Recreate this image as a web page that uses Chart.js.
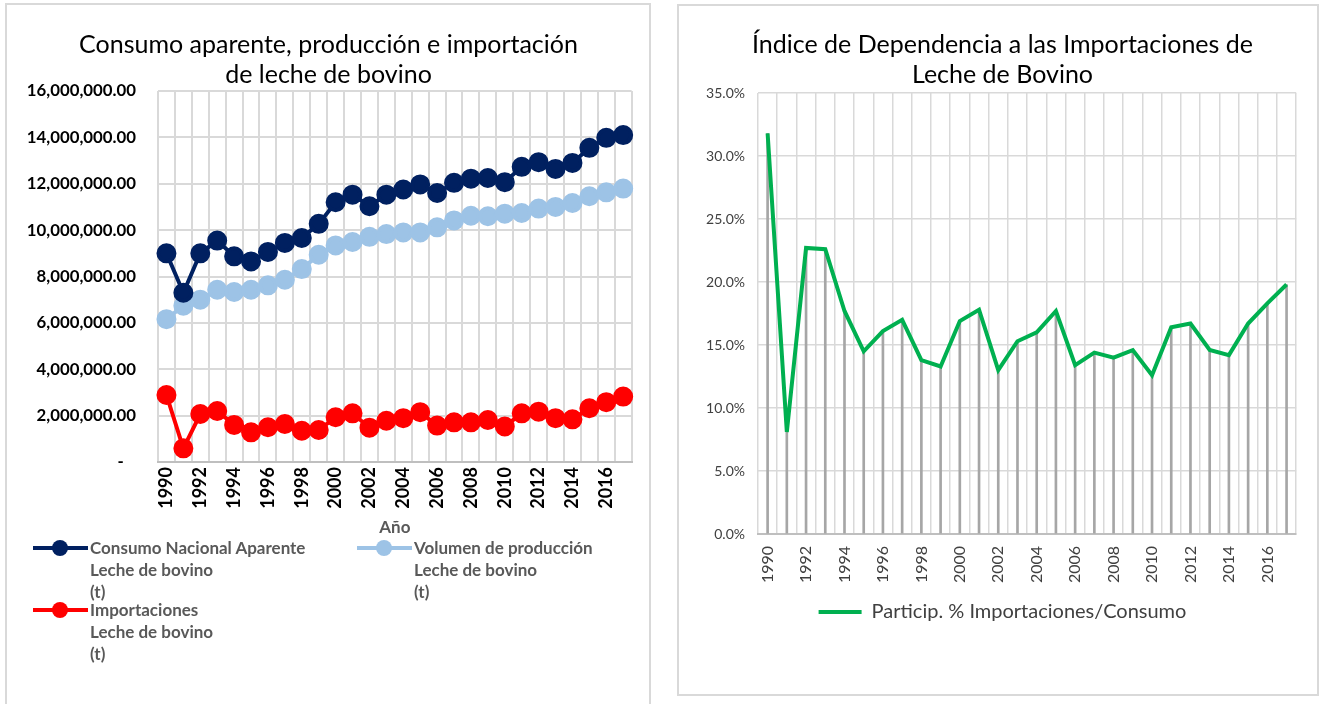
<!DOCTYPE html>
<html><head><meta charset="utf-8">
<script src="https://cdn.jsdelivr.net/npm/chart.js@4.4.1/dist/chart.umd.min.js"></script>
<style>
html,body{margin:0;padding:0;background:#fff;width:1320px;height:704px;overflow:hidden;font-family:Lato,sans-serif}
.box{position:absolute;border:2px solid #d9d9d9;box-sizing:border-box}
#boxL{left:5px;top:3px;width:646px;height:720px}
#boxR{left:677px;top:4px;width:642px;height:692px}
canvas{position:absolute}
#cL{left:6px;top:4px}
#cR{left:678px;top:5px}
.lg{position:absolute;font:bold 17px Lato,sans-serif;color:#595959;line-height:22px}
.lg .mk{position:absolute;left:0;top:9px;width:55px;height:4px}
.lg .dot{position:absolute;left:19px;top:3px;width:16px;height:16px;border-radius:50%}
.lg .tx{position:absolute;left:57px;top:0;white-space:nowrap}
</style></head>
<body>
<div class="box" id="boxL"></div>
<div class="box" id="boxR"></div>
<canvas id="cL" width="644" height="696"></canvas>
<canvas id="cR" width="640" height="690"></canvas>
<div id="legendL"></div>
<script>
const years = ['1990','1991','1992','1993','1994','1995','1996','1997','1998','1999','2000','2001','2002','2003','2004','2005','2006','2007','2008','2009','2010','2011','2012','2013','2014','2015','2016','2017'];
const consumo = [9000000,7300000,9000000,9550000,8870000,8650000,9060000,9450000,9660000,10270000,11200000,11530000,11030000,11530000,11750000,11970000,11600000,12040000,12220000,12250000,12070000,12730000,12930000,12640000,12900000,13550000,13980000,14100000];
const produccion = [6160000,6740000,7000000,7430000,7330000,7430000,7620000,7860000,8320000,8940000,9340000,9490000,9710000,9830000,9900000,9900000,10120000,10420000,10620000,10600000,10710000,10740000,10930000,11000000,11170000,11460000,11630000,11790000];
const importaciones = [2890000,590000,2070000,2200000,1600000,1280000,1500000,1640000,1350000,1380000,1930000,2100000,1480000,1780000,1890000,2150000,1570000,1710000,1710000,1810000,1530000,2100000,2170000,1890000,1840000,2320000,2580000,2820000];
const dependencia = [31.8,8.1,22.7,22.6,17.7,14.5,16.1,17.0,13.8,13.3,16.9,17.8,13.0,15.3,16.0,17.7,13.4,14.4,14.0,14.6,12.6,16.4,16.7,14.6,14.2,16.7,18.3,19.8];
const seriesNamesL = [
  ['Consumo Nacional Aparente','Leche de bovino','(t)'],
  ['Volumen de producción','Leche de bovino','(t)'],
  ['Importaciones','Leche de bovino','(t)']
];
const colorsL = ['#002060','#9dc3e6','#ff0000'];
const titleL = ['Consumo aparente, producción e importación','de leche de bovino'];
const titleR = ['Índice de Dependencia a las Importaciones de','Leche de Bovino'];
const seriesNameR = 'Particip. % Importaciones/Consumo';

const F = 'Lato';
const valsL = [consumo, produccion, importaciones];
const dsL = valsL.map((v,i)=>({
  label: seriesNamesL[i].join(' '), data: v,
  borderColor: colorsL[i], backgroundColor: colorsL[i],
  pointBackgroundColor: colorsL[i], pointBorderColor: colorsL[i],
  borderWidth: 4, pointRadius: 8, pointHoverRadius: 8, tension: 0
}));

new Chart(document.getElementById('cL'), {
  type: 'line',
  data: { labels: years, datasets: dsL },
  options: {
    responsive: false, animation: false, devicePixelRatio: 1,
    layout: { padding: { left: 10, right: 9, top: 0, bottom: 161 } },
    plugins: {
      legend: { display: false }, tooltip: { enabled: false },
      title: { display: true, text: titleL, color: '#000',
        font: { family: F, size: 25, weight: 'normal', lineHeight: 1.2 },
        padding: { top: 26, bottom: 1 } }
    },
    scales: {
      x: {
        offset: true,
        grid: { offset: true, color: '#d9d9d9', lineWidth: 2, drawTicks: false },
        border: { color: '#bfbfbf', width: 2 },
        ticks: { autoSkip: false, maxRotation: 90, minRotation: 90, padding: 5, color: '#000',
          font: { family: F, size: 18, weight: 'bold' },
          callback: (v, i) => (i % 2 === 0 ? years[i] : '') },
        title: { display: true, text: 'Año', color: '#595959',
          font: { family: F, size: 17, weight: 'bold' }, padding: { top: 2, bottom: 1 } },
        afterFit: s => { s.height = 77; }
      },
      y: {
        min: 0, max: 16000000,
        grid: { color: '#d9d9d9', lineWidth: 2, drawTicks: false },
        border: { display: false },
        ticks: { stepSize: 2000000, padding: 22, color: '#000',
          font: { family: F, size: 16.8, weight: 'bold' },
          callback: v => (v === 0 ? '-   ' : Number(v).toLocaleString('en-US', { minimumFractionDigits: 2, maximumFractionDigits: 2 })) },
        afterFit: s => { s.width = 142; }
      }
    }
  }
});

// HTML legend for left chart, built from datasets
const legPos = [[33, 537], [357, 537], [33, 599]];
const lg = document.getElementById('legendL');
dsL.forEach((d, i) => {
  const el = document.createElement('div');
  el.className = 'lg';
  el.style.left = legPos[i][0] + 'px';
  el.style.top = legPos[i][1] + 'px';
  el.innerHTML = '<div class="mk" style="background:' + d.borderColor + '"></div>' +
    '<div class="dot" style="background:' + d.borderColor + '"></div>' +
    '<div class="tx">' + seriesNamesL[i].join('<br>') + '</div>';
  lg.appendChild(el);
});

new Chart(document.getElementById('cR'), {
  data: {
    labels: years,
    datasets: [
      { type: 'line', label: seriesNameR, data: dependencia, borderColor: '#00b050', backgroundColor: '#00b050',
        borderWidth: 4, pointRadius: 0, pointHoverRadius: 0, tension: 0, order: 1 },
      { type: 'bar', label: 'drop', data: dependencia, backgroundColor: '#a6a6a6', barThickness: 2, order: 2 }
    ]
  },
  options: {
    responsive: false, animation: false, devicePixelRatio: 1,
    layout: { padding: { left: 22, right: 13, top: 0, bottom: 63 } },
    plugins: {
      tooltip: { enabled: false },
      legend: { position: 'bottom',
        labels: { filter: it => it.datasetIndex === 0, usePointStyle: true, pointStyle: 'line', pointStyleWidth: 43,
          color: '#404040', font: { family: F, size: 20 }, padding: 10 } },
      title: { display: true, text: titleR, color: '#000',
        font: { family: F, size: 25, weight: 'normal', lineHeight: 1.2 },
        padding: { top: 25, bottom: 3 } }
    },
    scales: {
      x: {
        offset: true,
        grid: { offset: true, color: '#d9d9d9', lineWidth: 1.5, drawTicks: false },
        border: { color: '#bfbfbf', width: 2 },
        ticks: { autoSkip: false, maxRotation: 90, minRotation: 90, padding: 12, color: '#404040',
          font: { family: F, size: 16 },
          callback: (v, i) => (i % 2 === 0 ? years[i] : '') },
        afterFit: s => { s.height = 58; }
      },
      y: {
        min: 0, max: 35,
        grid: { color: '#d9d9d9', lineWidth: 1.5, drawTicks: false },
        border: { display: false },
        ticks: { stepSize: 5, padding: 13, color: '#404040', font: { family: F, size: 14 },
          callback: v => Number(v).toFixed(1) + '%' },
        afterFit: s => { s.width = 58; }
      }
    }
  }
});
</script>
</body></html>
